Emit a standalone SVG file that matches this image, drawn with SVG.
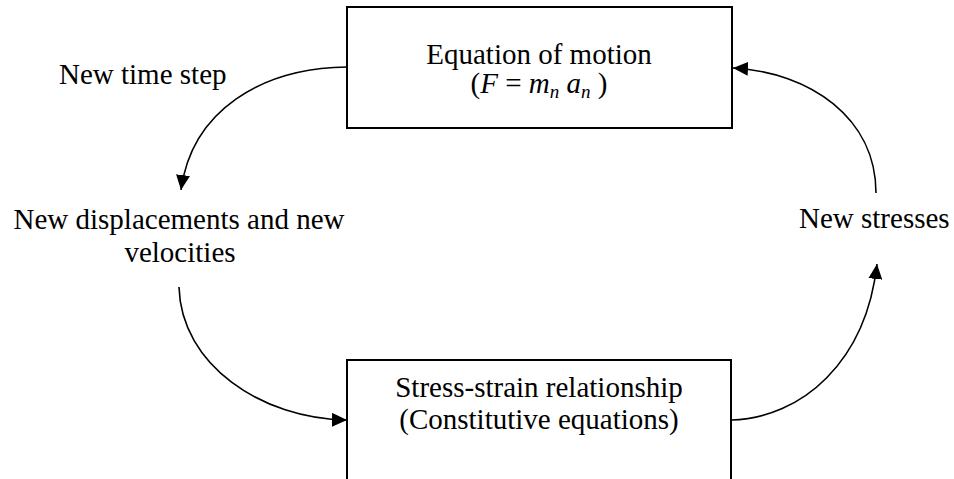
<svg xmlns="http://www.w3.org/2000/svg" width="954" height="479" viewBox="0 0 954 479" font-family="'Liberation Serif', 'DejaVu Serif', serif">
<style>
  text { font-family: 'Liberation Serif', 'DejaVu Serif', serif; font-size: 29px; fill: #000; }
  .box { fill: #fff; stroke: #000; stroke-width: 2; }
  .conn { fill: none; stroke: #000; stroke-width: 1.6; marker-end: url(#ah); }
  .it { font-style: italic; }
  .sub { font-size: 19px; font-style: italic; }
</style>
<defs>
  <marker id="ah" markerUnits="userSpaceOnUse" markerWidth="15" markerHeight="14" refX="15" refY="7" orient="auto">
    <path d="M0,0 L15,7 L0,14 z" fill="#000"/>
  </marker>
</defs>
<rect width="954" height="479" fill="#fff"/>
<g id="connectors">
  <path class="conn" d="M347,67 C262,68 192,110 181,190"/>
  <path class="conn" d="M179,287 C181,365 262,419 347,420"/>
  <path class="conn" d="M731,420 C802,418 866,362 877,264"/>
  <path class="conn" d="M876,193 C876,118 810,72 733,68"/>
</g>
<g id="node-motion">
  <rect class="box" x="347" y="7" width="385" height="121"/>
  <text x="539" y="64" text-anchor="middle">Equation of motion</text>
  <text x="539" y="93" text-anchor="middle">(<tspan class="it">F</tspan> = <tspan class="it">m</tspan><tspan class="sub" dy="5">n</tspan><tspan dy="-5"> </tspan><tspan class="it">a</tspan><tspan class="sub" dy="5">n</tspan><tspan dy="-5"> )</tspan></text>
</g>
<g id="node-stress-strain">
  <path class="box" d="M347,481 L347,360 L731,360 L731,481"/>
  <text x="539" y="397" text-anchor="middle">Stress-strain relationship</text>
  <text x="539" y="429" text-anchor="middle">(Constitutive equations)</text>
</g>
<g id="label-timestep">
  <text x="59" y="84">New time step</text>
</g>
<g id="label-displacements">
  <text x="179" y="229" text-anchor="middle">New displacements and new</text>
  <text x="180" y="262" text-anchor="middle">velocities</text>
</g>
<g id="label-stresses">
  <text x="799" y="228">New stresses</text>
</g>
</svg>
